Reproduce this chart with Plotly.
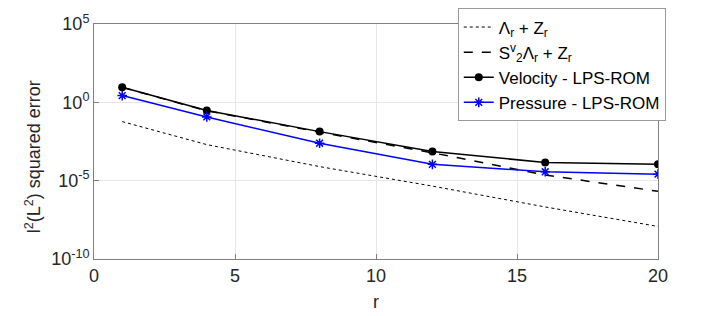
import plotly.graph_objects as go

r_vals = [1, 4, 8, 12, 16, 20]
lambda_z = [0.059, 2.0e-3, 7.9e-5, 4.5e-6, 2.1e-7, 1.2e-8]
s2_lambda_z = [9.0, 0.29, 0.0125, 6.0e-4, 2.3e-5, 2.1e-6]
velocity = [9.1, 0.30, 0.0135, 7.2e-4, 1.45e-4, 1.1e-4]
pressure = [2.7, 0.117, 2.45e-3, 1.1e-4, 3.7e-5, 2.6e-5]

x_ticks = [0, 5, 10, 15, 20]
y_tickvals = [1e-10, 1e-5, 1e0, 1e5]
y_ticktext = ["10<sup>-10</sup>", "10<sup>-5</sup>", "10<sup>0</sup>", "10<sup>5</sup>"]

FONT = "Liberation Sans, Arial, sans-serif"
TXT = "#262626"

fig = go.Figure()
fig.add_trace(go.Scatter(x=r_vals, y=lambda_z, mode="lines",
                         line=dict(color="black", width=1, dash="dot"),
                         name="Λ<sub>r</sub> + Z<sub>r</sub>"))
fig.add_trace(go.Scatter(x=r_vals, y=s2_lambda_z, mode="lines",
                         line=dict(color="black", width=1.5, dash="dash"),
                         name="S<sup>v</sup><sub>2</sub>Λ<sub>r</sub> + Z<sub>r</sub>"))
fig.add_trace(go.Scatter(x=r_vals, y=velocity, mode="lines+markers",
                         line=dict(color="black", width=1.5),
                         marker=dict(symbol="circle", size=8, color="black"),
                         name="Velocity - LPS-ROM"))
fig.add_trace(go.Scatter(x=r_vals, y=pressure, mode="lines+markers",
                         line=dict(color="#0000ff", width=1.5),
                         marker=dict(symbol="asterisk-open", size=8, color="#0000ff",
                                     line=dict(color="#0000ff", width=1.5)),
                         name="Pressure - LPS-ROM"))

fig.update_layout(
    width=727, height=316,
    margin=dict(l=86, r=77, t=16, b=65, autoexpand=False),
    paper_bgcolor="white", plot_bgcolor="white",
    font=dict(family=FONT, size=18, color=TXT),
    showlegend=True,
    legend=dict(x=0.645, y=1.066, xanchor="left", yanchor="top",
                bgcolor="white", bordercolor="#9a9a9a", borderwidth=1,
                font=dict(size=17, color="black"),
                tracegroupgap=0, itemwidth=30),
    xaxis=dict(range=[0, 20], tickmode="array", tickvals=x_ticks,
               showgrid=True, gridcolor="#e6e6e6", gridwidth=1,
               showline=True, linecolor="#808080", linewidth=1, mirror=True,
               ticks="inside", ticklen=5, tickcolor="#808080", zeroline=False,
               tickfont=dict(size=18, color=TXT),
               title=dict(text="r", font=dict(size=18, color=TXT), standoff=10)),
    yaxis=dict(type="log", range=[-10, 5], tickmode="array",
               tickvals=y_tickvals, ticktext=y_ticktext,
               showgrid=True, gridcolor="#e6e6e6", gridwidth=1,
               showline=True, linecolor="#808080", linewidth=1, mirror=True,
               ticks="inside", ticklen=5, tickcolor="#808080", zeroline=False,
               tickfont=dict(size=18, color=TXT)),
    annotations=[dict(text="l<sup>2</sup>(L<sup>2</sup>) squared error",
                      xref="paper", yref="paper", x=-0.108, y=0.433,
                      xanchor="center", yanchor="middle", textangle=-90,
                      showarrow=False, font=dict(size=18, color=TXT))],
)

fig.write_html("out.html")
